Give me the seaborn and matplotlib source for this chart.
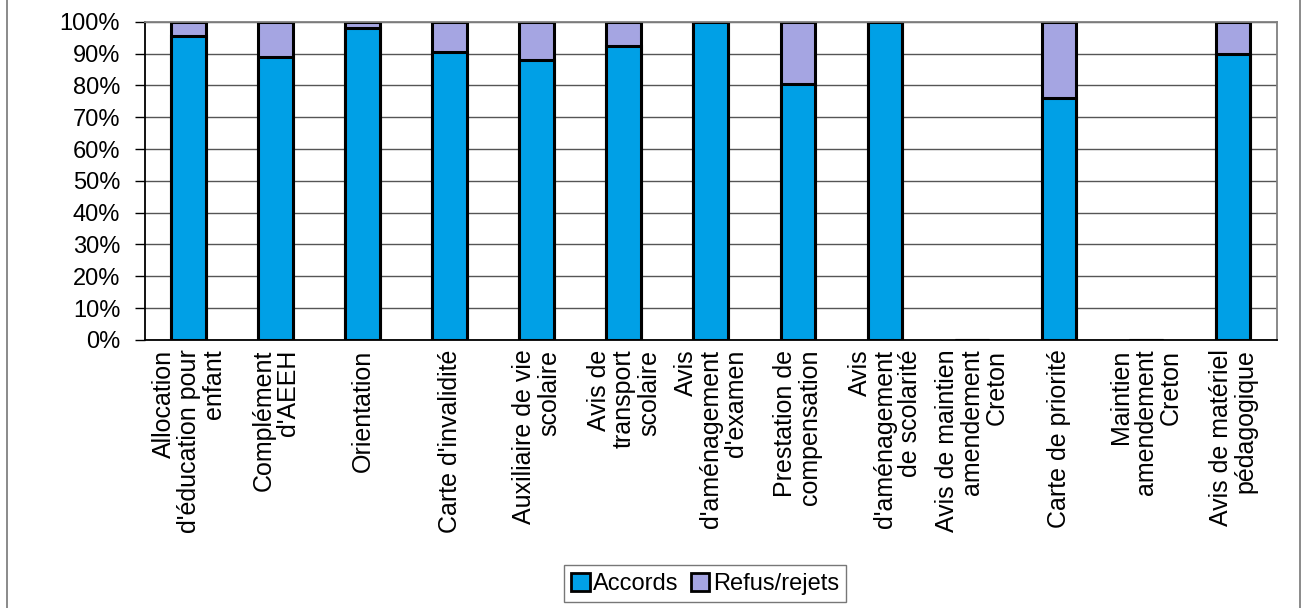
import matplotlib
matplotlib.use("Agg")
import matplotlib.pyplot as plt
from matplotlib.patches import Patch
from matplotlib.lines import Line2D
import seaborn as sns
import pandas as pd

categories = [
    "Allocation\nd'éducation pour\nenfant",
    "Complément\nd'AEEH",
    "Orientation",
    "Carte d'invalidité",
    "Auxiliaire de vie\nscolaire",
    "Avis de\ntransport\nscolaire",
    "Avis\nd'aménagement\nd'examen",
    "Prestation de\ncompensation",
    "Avis\nd'aménagement\nde scolarité",
    "Avis de maintien\namendement\nCreton",
    "Carte de priorité",
    "Maintien\namendement\nCreton",
    "Avis de matériel\npédagogique",
]
accords = [95.5, 89, 98, 90.5, 88, 92.5, 100, 80.5, 100, 0, 76, 0, 90]
refus = [4.5, 11, 2, 9.5, 12, 7.5, 0, 19.5, 0, 0, 24, 0, 10]
y_ticks = [0, 10, 20, 30, 40, 50, 60, 70, 80, 90, 100]

blue = "#00A0E6"
lavender = "#A5A5E2"

df = pd.DataFrame({"cat": categories, "accords": accords, "refus": refus})
df["total"] = df["accords"] + df["refus"]

sns.set_style("white")
plt.rcParams["font.family"] = ["Liberation Sans", "DejaVu Sans"]
plt.rcParams["text.color"] = "black"
plt.rcParams["xtick.color"] = "black"
plt.rcParams["ytick.color"] = "black"

fig = plt.figure(figsize=(13.08, 6.08), dpi=100)
ax = fig.add_axes([0.111, 0.441, 0.865, 0.523])

# stacked: total first (refus on top), then accords over it
sns.barplot(data=df, x="cat", y="total", color=lavender, width=0.4,
            edgecolor="black", linewidth=2.2, saturation=1, ax=ax)
sns.barplot(data=df, x="cat", y="accords", color=blue, width=0.4,
            edgecolor="black", linewidth=2.2, saturation=1, ax=ax)

n = len(categories)
ax.set_xlim(-0.5, n - 0.5)
ax.set_ylim(0, 100)
ax.set_yticks(y_ticks)
ax.set_yticklabels([f"{v}%" for v in y_ticks], fontsize=17)
ax.yaxis.grid(True, color="#555555", linewidth=1)
ax.set_axisbelow(True)
ax.set_xlabel("")
ax.set_ylabel("")

ax.set_xticks(range(n))
ax.set_xticklabels(categories, rotation=90, fontsize=18, linespacing=1.05,
                   ha="center", va="top", multialignment="right")
ax.tick_params(axis="x", which="major", length=0, pad=7)
ax.set_xticks([i - 0.5 for i in range(n + 1)], minor=True)
ax.tick_params(axis="x", which="minor", length=8, width=1, color="black", direction="out")
ax.tick_params(axis="y", length=7, width=1, color="black", direction="out", left=True, pad=11)

for side in ["left", "bottom"]:
    ax.spines[side].set_color("black")
    ax.spines[side].set_linewidth(1.3)
for side in ["top", "right"]:
    ax.spines[side].set_color("#808080")
    ax.spines[side].set_linewidth(1.3)

handles = [
    Patch(facecolor=blue, edgecolor="black", linewidth=2, label="Accords"),
    Patch(facecolor=lavender, edgecolor="black", linewidth=2, label="Refus/rejets"),
]
leg = fig.legend(handles=handles, loc="center", bbox_to_anchor=(705 / 1308, 0.04),
                 ncol=2, fontsize=17, frameon=True, fancybox=False,
                 handlelength=0.8, handleheight=0.8, handletextpad=0.15,
                 columnspacing=0.5, borderpad=0.3)
leg.get_frame().set_edgecolor("#555555")
leg.get_frame().set_linewidth(1)

# outer chart frame (left and right edges visible)
fig.add_artist(Line2D([7 / 1308, 7 / 1308], [0, 1], color="#777777", linewidth=1.2))
fig.add_artist(Line2D([1300 / 1308, 1300 / 1308], [0, 1], color="#777777", linewidth=1.2))

fig.savefig("out.png", dpi=100)
